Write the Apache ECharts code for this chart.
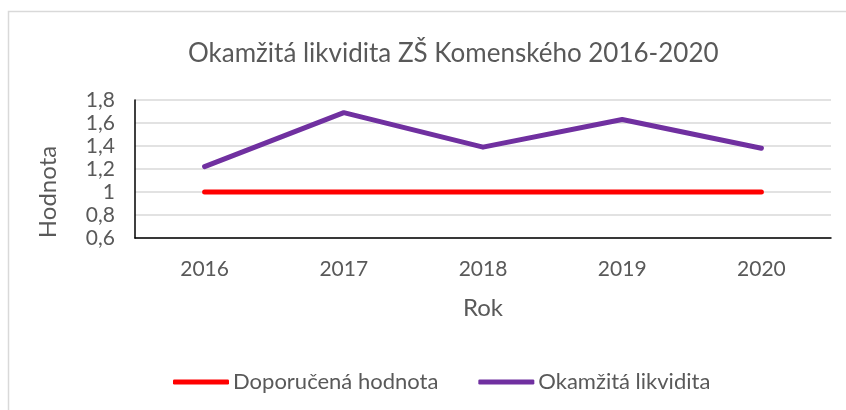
<!DOCTYPE html>
<html>
<head>
<meta charset="utf-8">
<script src="https://cdn.jsdelivr.net/npm/echarts@6/dist/echarts.min.js"></script>
<style>
html,body{margin:0;padding:0;background:#fff}
#chart{width:846px;height:410px}
</style>
</head>
<body>
<div id="chart"></div>
<script>

// data
const years = ["2016","2017","2018","2019","2020"]
const doporucena = [1,1,1,1,1]
const okamzita = [1.22,1.69,1.39,1.63,1.38]
const seriesNames = ["Doporučená hodnota","Okamžitá likvidita"]

const FONT = "Lato, 'Open Sans', sans-serif"
const TXT = "#595959"

const chart = echarts.init(document.getElementById("chart"))

chart.setOption({

animation:false,

title:{
text:"Okamžitá likvidita ZŠ Komenského 2016-2020",
left:183,
top:36,
textStyle:{fontFamily:FONT,fontSize:26,fontWeight:"normal",color:TXT}
},

graphic:[
{
type:"rect",
shape:{x:8.5,y:11.5,width:900,height:500},
style:{fill:"none",stroke:"#d9d9d9",lineWidth:1.5},
silent:true
},
{
type:"text",
x:48,
y:192,
rotation:Math.PI/2,
style:{text:"Hodnota",fontFamily:FONT,fontSize:24,fill:TXT,align:"center",verticalAlign:"middle"}
}
],

legend:{
data:seriesNames,
top:366,
left:168,
icon:"roundRect",
itemWidth:56,
itemHeight:5,
itemGap:40,
textStyle:{fontFamily:FONT,fontSize:22,color:TXT,padding:[0,0,0,-1]}
},

grid:{left:135,right:15,top:100,bottom:172},

xAxis:{
type:"category",
data:years,
boundaryGap:true,
name:"Rok",
nameLocation:"middle",
nameGap:58,
nameTextStyle:{fontFamily:FONT,fontSize:24,color:TXT},
axisLine:{lineStyle:{color:"#000",width:1.5}},
axisTick:{show:false},
axisLabel:{fontFamily:FONT,fontSize:21,color:TXT,margin:21}
},

yAxis:{
type:"value",
min:0.6,
max:1.8,
interval:0.2,
axisLine:{show:true,lineStyle:{color:"#000",width:1.5}},
axisTick:{show:false},
splitLine:{lineStyle:{color:"#d9d9d9",width:1.5}},
axisLabel:{
fontFamily:FONT,fontSize:21,color:TXT,margin:20,
formatter:v => String(+v.toFixed(1)).replace(".",",")
}
},

series:[
{
name:seriesNames[0],
type:"line",
data:doporucena,
symbol:"none",
color:"#ff0000",
lineStyle:{color:"#ff0000",width:5,cap:"round"}
},
{
name:seriesNames[1],
type:"line",
data:okamzita,
symbol:"none",
color:"#7030a0",
lineStyle:{color:"#7030a0",width:5,cap:"round",join:"round"}
}
]

})

</script>
</body>
</html>
